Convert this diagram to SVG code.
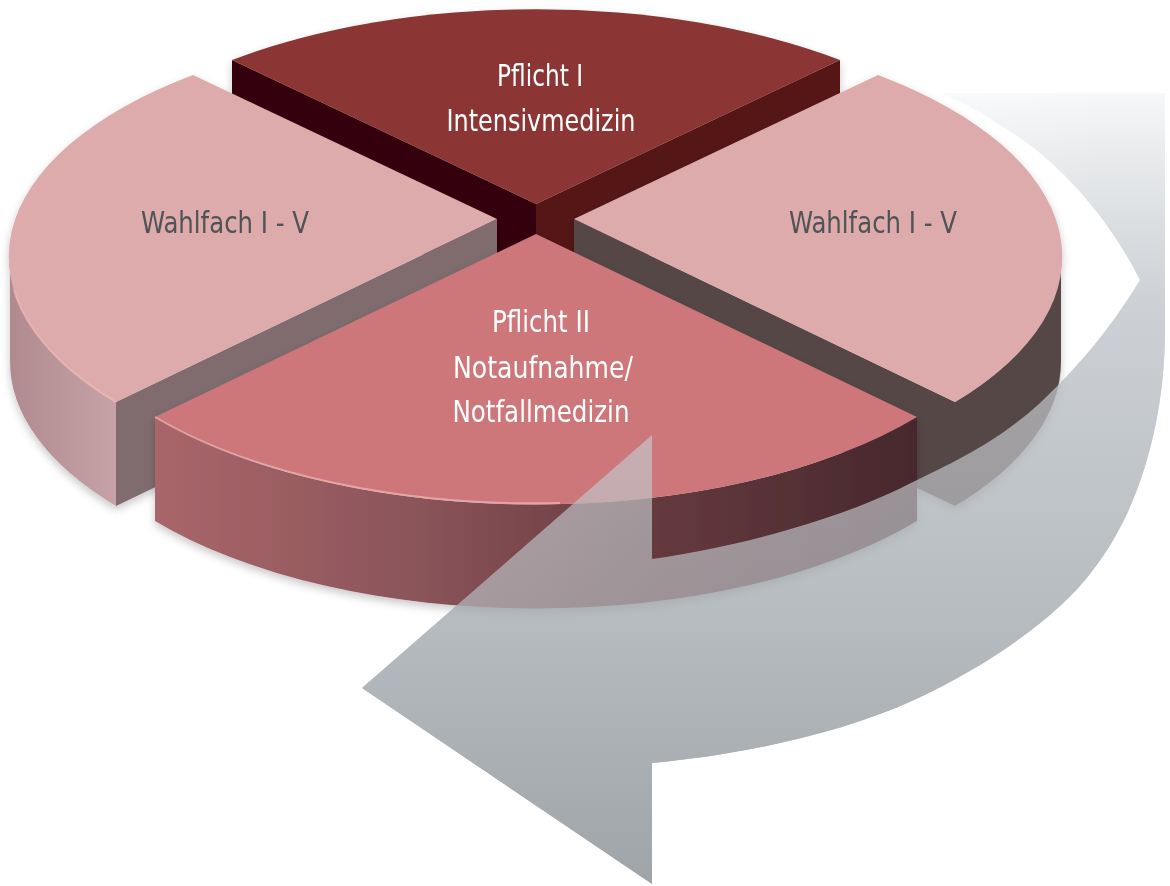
<svg xmlns="http://www.w3.org/2000/svg" width="1170" height="886" viewBox="0 0 1170 886">
  <defs>
    <style>
      .lbl { font-family: "Liberation Sans Narrow", "DejaVu Sans Condensed", "Liberation Sans", sans-serif; font-size: 31px; text-anchor: middle; }
      .w { fill: #ffffff; }
      .g { fill: #505355; }
      .topW { fill: #ddabac; }
      .rim { fill: none; stroke: #f0b8b8; stroke-width: 2; stroke-opacity: 0.7; }
    </style>
    <linearGradient id="arrowGrad" gradientUnits="userSpaceOnUse" x1="0" y1="93" x2="0" y2="886">
      <stop offset="0" stop-color="#f7f8f9"/>
      <stop offset="0.08" stop-color="#e8eaec"/>
      <stop offset="0.26" stop-color="#cdd1d5"/>
      <stop offset="0.64" stop-color="#b8bdc1"/>
      <stop offset="1" stop-color="#9fa4a9"/>
    </linearGradient>
    <linearGradient id="arrowFade" gradientUnits="userSpaceOnUse" x1="930" y1="0" x2="1100" y2="0">
      <stop offset="0" stop-color="#ffffff" stop-opacity="0.9"/>
      <stop offset="1" stop-color="#ffffff" stop-opacity="0"/>
    </linearGradient>
    <linearGradient id="wallLeft" gradientUnits="userSpaceOnUse" x1="10" y1="0" x2="116" y2="0">
      <stop offset="0" stop-color="#b08a8f"/>
      <stop offset="1" stop-color="#c6a2a6"/>
    </linearGradient>
    <linearGradient id="wallFront" gradientUnits="userSpaceOnUse" x1="155" y1="0" x2="917" y2="0">
      <stop offset="0" stop-color="#a9666a"/>
      <stop offset="0.35" stop-color="#8a5459"/>
      <stop offset="0.65" stop-color="#653a3f"/>
      <stop offset="1" stop-color="#47282d"/>
    </linearGradient>
    <filter id="shadow" x="-10%" y="-10%" width="120%" height="130%">
      <feDropShadow dx="0" dy="4" stdDeviation="4" flood-color="#000000" flood-opacity="0.22"/>
    </filter>
    <path id="arrowShape" d="M 940,93 L 1165,93 L 1165,330 C 1165,420 1140,510 1093,570 C 1060,615 990,665 914,700 C 840,734 740,755 652,763 L 652,884 L 362,688 L 652,435 L 652,559 C 750,545 850,515 913,482 C 970,455 1005,435 1040,403 C 1075,370 1110,330 1140,280 C 1110,220 1060,160 1000,125 C 980,112 960,101 940,93 Z"/>
  </defs>

  <rect x="0" y="0" width="1170" height="886" fill="#ffffff"/>

  <!-- arrow, back (opaque) layer -->
  <g id="connectors">
    <g id="cycle-arrow-back">
      <use href="#arrowShape" fill="url(#arrowGrad)"/>
      <path d="M 940,93 L 1165,93 L 1165,200 L 1060,200 Z" fill="url(#arrowFade)"/>
    </g>
  </g>

  <!-- Pflicht I (back slice) -->
  <g id="slice-pflicht1" filter="url(#shadow)">
    <path d="M 536,204 L 232,60 L 232,164 L 536,308 Z" fill="#360607"/>
    <path d="M 536,204 L 840,60 L 840,164 L 536,308 Z" fill="#551618"/>
    <path d="M 536,204 L 232,60 A 487 232 0 0 1 840,60 Z" fill="#8c3535"/>
    <text class="lbl w" x="540" y="86" textLength="86" lengthAdjust="spacingAndGlyphs">Pflicht I</text>
    <text class="lbl w" x="541" y="131" textLength="189" lengthAdjust="spacingAndGlyphs">Intensivmedizin</text>
  </g>

  <!-- Wahlfach left -->
  <g id="slice-wahlfach-left" filter="url(#shadow)">
    <path d="M 10,256 A 487 232 0 0 0 116,402 L 116,506 A 487 232 0 0 1 10,360 Z" fill="url(#wallLeft)"/>
    <path d="M 497,219 L 116,402 L 116,506 L 497,323 Z" fill="#806c6e"/>
    <path class="topW" d="M 497,219 L 193,75 A 487 232 0 0 0 116,402 Z"/>
    <path class="rim" d="M 14,290 A 487 232 0 0 0 116,402"/>
    <text class="lbl g" x="225" y="233" textLength="168" lengthAdjust="spacingAndGlyphs">Wahlfach I - V</text>
  </g>

  <!-- Wahlfach right -->
  <g id="slice-wahlfach-right" filter="url(#shadow)">
    <path d="M 1061,256 A 487 232 0 0 1 955,402 L 955,506 A 487 232 0 0 0 1061,360 Z" fill="#564647"/>
    <path d="M 574,219 L 955,402 L 955,506 L 574,323 Z" fill="#564647"/>
    <path class="topW" d="M 574,219 L 878,75 A 487 232 0 0 1 955,402 Z"/>
    <text class="lbl g" x="873" y="233" textLength="168" lengthAdjust="spacingAndGlyphs">Wahlfach I - V</text>
  </g>

  <!-- Pflicht II (front slice) -->
  <g id="slice-pflicht2" filter="url(#shadow)">
    <path d="M 155,417 A 487 232 0 0 0 917,417 L 917,521 A 487 232 0 0 1 155,521 Z" fill="url(#wallFront)"/>
    <path d="M 536,234 L 155,417 A 487 232 0 0 0 917,417 Z" fill="#cd777a"/>
    <path class="rim" d="M 155,417 A 487 232 0 0 0 560,503"/>
    <text class="lbl w" x="541" y="332" textLength="98" lengthAdjust="spacingAndGlyphs">Pflicht II</text>
    <text class="lbl w" x="543" y="378" textLength="180" lengthAdjust="spacingAndGlyphs">Notaufnahme/</text>
    <text class="lbl w" x="541" y="422" textLength="177" lengthAdjust="spacingAndGlyphs">Notfallmedizin</text>
  </g>

  <!-- arrow, front (translucent) layer -->
  <g id="cycle-arrow-front" opacity="0.68">
    <use href="#arrowShape" fill="url(#arrowGrad)"/>
  </g>
</svg>
